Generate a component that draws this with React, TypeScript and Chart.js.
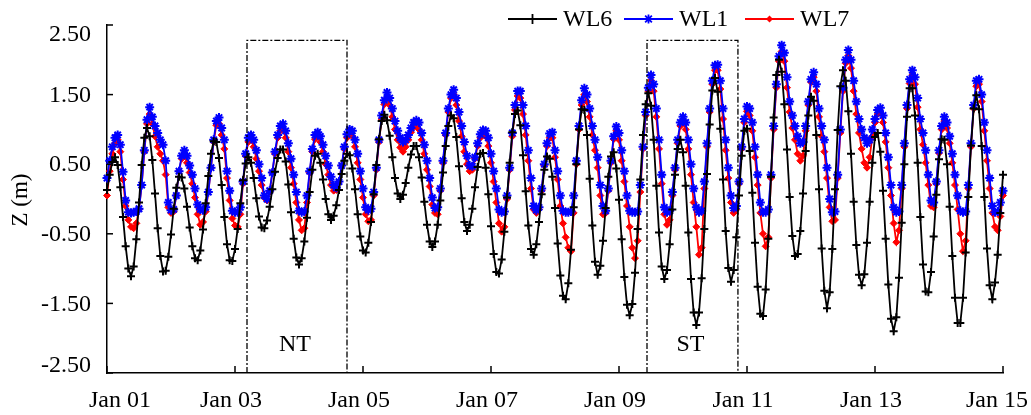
import React, { useEffect, useRef } from 'react';
import { Chart, registerables } from 'chart.js';

Chart.register(...registerables);

// Hourly water levels (m), Jan 01 00:00 .. Jan 15 00:00
const WL6 = [
  0.13, 0.35, 0.53, 0.60, 0.49, 0.17, -0.26, -0.68, -1.00, -1.11,
  -0.97, -0.58, -0.05, 0.49, 0.88, 1.02, 0.90, 0.56, 0.08, -0.42,
  -0.82, -1.04, -1.03, -0.83, -0.51, -0.14, 0.16, 0.32, 0.31, 0.15,
  -0.11, -0.41, -0.68, -0.85, -0.88, -0.74, -0.44, -0.06, 0.33, 0.65,
  0.83, 0.82, 0.59, 0.20, -0.26, -0.65, -0.88, -0.89, -0.72, -0.43,
  -0.06, 0.27, 0.51, 0.60, 0.52, 0.30, 0.01, -0.25, -0.41, -0.42,
  -0.31, -0.11, 0.14, 0.39, 0.59, 0.71, 0.71, 0.54, 0.21, -0.19,
  -0.57, -0.84, -0.94, -0.85, -0.61, -0.27, 0.10, 0.42, 0.62, 0.65,
  0.52, 0.28, 0.00, -0.22, -0.30, -0.24, -0.09, 0.13, 0.36, 0.55,
  0.65, 0.63, 0.44, 0.14, -0.22, -0.54, -0.74, -0.77, -0.63, -0.33,
  0.07, 0.49, 0.86, 1.12, 1.21, 1.13, 0.91, 0.60, 0.30, 0.08,
  0.00, 0.06, 0.23, 0.45, 0.64, 0.76, 0.76, 0.60, 0.31, -0.04,
  -0.37, -0.61, -0.69, -0.61, -0.37, -0.02, 0.38, 0.76, 1.05, 1.20,
  1.16, 0.89, 0.47, 0.01, -0.33, -0.46, -0.37, -0.14, 0.17, 0.46,
  0.65, 0.66, 0.45, 0.07, -0.39, -0.79, -1.05, -1.07, -0.87, -0.47,
  0.02, 0.52, 0.96, 1.22, 1.27, 1.06, 0.63, 0.11, -0.38, -0.72,
  -0.80, -0.65, -0.33, 0.07, 0.42, 0.61, 0.58, 0.32, -0.13, -0.64,
  -1.10, -1.39, -1.44, -1.21, -0.73, -0.12, 0.50, 1.00, 1.29, 1.28,
  0.92, 0.29, -0.38, -0.90, -1.09, -0.96, -0.60, -0.13, 0.32, 0.61,
  0.67, 0.44, -0.01, -0.58, -1.12, -1.52, -1.67, -1.51, -1.06, -0.43,
  0.28, 0.92, 1.36, 1.52, 1.34, 0.85, 0.19, -0.48, -0.97, -1.15,
  -1.02, -0.65, -0.15, 0.35, 0.72, 0.85, 0.67, 0.19, -0.48, -1.15,
  -1.63, -1.81, -1.63, -1.14, -0.43, 0.36, 1.07, 1.56, 1.74, 1.54,
  1.01, 0.28, -0.46, -0.99, -1.19, -1.02, -0.55, 0.05, 0.62, 0.98,
  1.01, 0.69, 0.09, -0.63, -1.26, -1.65, -1.68, -1.30, -0.57, 0.32,
  1.17, 1.78, 2.00, 1.83, 1.36, 0.71, 0.03, -0.53, -0.82, -0.79,
  -0.46, 0.08, 0.69, 1.20, 1.47, 1.41, 0.92, 0.14, -0.71, -1.32,
  -1.57, -1.34, -0.72, 0.14, 0.99, 1.62, 1.85, 1.70, 1.26, 0.65,
  -0.04, -0.66, -1.09, -1.24, -1.08, -0.63, -0.04, 0.52, 0.89, 0.95,
  0.68, 0.12, -0.57, -1.23, -1.72, -1.90, -1.70, -1.13, -0.34, 0.50,
  1.18, 1.59, 1.59, 1.20, 0.52, -0.26, -0.94, -1.33, -1.34, -1.05,
  -0.54, 0.06, 0.57, 0.86, 0.85, 0.50, -0.11, -0.82, -1.42, -1.78,
  -1.78, -1.42, -0.77, 0.03, 0.77, 1.30, 1.49, 1.29, 0.76, 0.03,
  -0.71, -1.24, -1.44, -1.20, -0.80, -0.20, 0.35,
];

const WL1 = [
  0.30, 0.55, 0.75, 0.88, 0.92, 0.78, 0.39, -0.02, -0.19, -0.20,
  -0.19, -0.18, -0.14, 0.20, 0.70, 1.14, 1.32, 1.18, 1.05, 0.95,
  0.85, 0.78, 0.55, -0.05, -0.16, -0.15, 0.05, 0.40, 0.62, 0.70,
  0.62, 0.48, 0.35, 0.15, -0.08, -0.15, -0.16, -0.12, 0.10, 0.45,
  0.85, 1.12, 1.17, 1.02, 0.85, 0.40, 0.12, -0.17, -0.19, -0.19,
  -0.12, 0.25, 0.65, 0.88, 0.92, 0.85, 0.70, 0.50, 0.30, 0.05,
  0.00, 0.12, 0.38, 0.68, 0.92, 1.05, 1.08, 0.98, 0.80, 0.58,
  0.35, 0.10, -0.17, -0.19, -0.18, 0.05, 0.40, 0.72, 0.92, 0.96,
  0.90, 0.78, 0.62, 0.48, 0.32, 0.20, 0.16, 0.25, 0.48, 0.75,
  0.93, 1.00, 0.98, 0.85, 0.65, 0.40, 0.15, -0.12, -0.16, -0.14,
  0.10, 0.45, 0.85, 1.20, 1.42, 1.53, 1.45, 1.30, 1.12, 0.98,
  0.88, 0.82, 0.85, 0.92, 1.02, 1.10, 1.13, 1.10, 0.95, 0.78,
  0.55, 0.30, 0.02, -0.13, -0.12, 0.15, 0.55, 0.95, 1.30, 1.50,
  1.57, 1.45, 1.25, 1.05, 0.82, 0.62, 0.48, 0.47, 0.60, 0.80,
  0.93, 0.99, 0.98, 0.88, 0.65, 0.40, 0.15, -0.15, -0.19, -0.18,
  0.05, 0.45, 0.95, 1.35, 1.55, 1.55, 1.35, 1.05, 0.70, 0.30,
  -0.10, -0.16, -0.12, 0.15, 0.50, 0.80, 0.94, 0.96, 0.70, 0.40,
  0.05, -0.17, -0.19, -0.19, -0.18, 0.05, 0.55, 1.05, 1.42, 1.59,
  1.50, 1.30, 1.05, 0.85, 0.60, 0.20, -0.10, -0.17, 0.15, 0.55,
  0.90, 1.04, 0.95, 0.70, 0.40, 0.05, -0.17, -0.19, -0.19, -0.18,
  0.20, 0.75, 1.25, 1.60, 1.78, 1.65, 1.30, 0.85, 0.35, -0.12,
  -0.19, -0.17, 0.10, 0.45, 0.85, 1.10, 1.18, 1.10, 0.85, 0.50,
  0.15, -0.12, -0.19, -0.17, 0.25, 0.80, 1.30, 1.70, 1.92, 1.93,
  1.70, 1.30, 0.85, 0.45, 0.05, -0.13, -0.10, 0.25, 0.75, 1.15,
  1.33, 1.30, 1.10, 0.75, 0.35, -0.05, -0.19, -0.19, -0.15, 0.35,
  1.05, 1.65, 2.05, 2.21, 2.10, 1.75, 1.40, 1.20, 1.05, 0.90,
  0.80, 0.82, 1.05, 1.40, 1.72, 1.82, 1.65, 1.30, 1.05, 0.85,
  0.45, 0.00, -0.19, -0.18, 0.35, 1.00, 1.60, 2.00, 2.14, 2.00,
  1.70, 1.40, 1.15, 1.00, 0.88, 0.80, 0.85, 1.00, 1.15, 1.28,
  1.31, 1.20, 0.95, 0.60, 0.20, -0.12, -0.19, -0.18, 0.20, 0.80,
  1.35, 1.72, 1.85, 1.75, 1.45, 1.15, 0.95, 0.70, 0.35, -0.02,
  -0.05, 0.25, 0.70, 1.05, 1.18, 1.10, 0.90, 0.65, 0.35, 0.05,
  -0.17, -0.19, -0.18, 0.20, 0.80, 1.35, 1.70, 1.72, 1.50, 1.10,
  0.70, 0.30, -0.10, -0.19, -0.18, -0.05, 0.12,
];

const WL7 = [
  0.05, 0.40, 0.65, 0.80, 0.85, 0.68, 0.28, -0.10, -0.30, -0.40,
  -0.42, -0.35, -0.15, 0.20, 0.68, 1.08, 1.22, 1.08, 0.90, 0.75,
  0.65, 0.55, 0.35, -0.12, -0.20, -0.18, 0.05, 0.40, 0.58, 0.64,
  0.52, 0.38, 0.22, 0.02, -0.22, -0.37, -0.33, -0.18, 0.10, 0.45,
  0.82, 1.06, 1.08, 0.92, 0.72, 0.30, -0.02, -0.28, -0.38, -0.40,
  -0.22, 0.22, 0.62, 0.82, 0.85, 0.75, 0.58, 0.40, 0.20, 0.02,
  -0.02, 0.10, 0.38, 0.65, 0.88, 0.98, 1.00, 0.88, 0.68, 0.45,
  0.22, -0.05, -0.30, -0.45, -0.42, -0.05, 0.38, 0.68, 0.86, 0.90,
  0.82, 0.68, 0.50, 0.35, 0.20, 0.12, 0.13, 0.25, 0.48, 0.72,
  0.88, 0.94, 0.90, 0.75, 0.52, 0.28, 0.02, -0.22, -0.32, -0.30,
  0.05, 0.42, 0.82, 1.15, 1.36, 1.45, 1.35, 1.18, 1.00, 0.85,
  0.74, 0.68, 0.75, 0.85, 0.96, 1.03, 1.05, 1.00, 0.85, 0.65,
  0.42, 0.18, -0.08, -0.20, -0.22, 0.12, 0.52, 0.92, 1.25, 1.45,
  1.50, 1.35, 1.12, 0.90, 0.68, 0.50, 0.40, 0.42, 0.58, 0.76,
  0.88, 0.92, 0.90, 0.76, 0.52, 0.25, -0.05, -0.35, -0.47, -0.40,
  0.00, 0.42, 0.90, 1.28, 1.48, 1.45, 1.22, 0.92, 0.55, 0.15,
  -0.15, -0.20, -0.15, 0.12, 0.48, 0.76, 0.88, 0.88, 0.60, 0.28,
  -0.10, -0.35, -0.55, -0.70, -0.75, -0.20, 0.50, 1.00, 1.35, 1.50,
  1.40, 1.18, 0.92, 0.70, 0.45, 0.05, -0.22, -0.20, 0.12, 0.52,
  0.86, 0.98, 0.85, 0.55, 0.25, -0.10, -0.40, -0.70, -0.85, -0.60,
  0.10, 0.72, 1.20, 1.55, 1.70, 1.55, 1.18, 0.72, 0.22, -0.22,
  -0.37, -0.30, 0.05, 0.42, 0.80, 1.05, 1.12, 1.00, 0.72, 0.35,
  -0.05, -0.40, -0.80, -0.70, 0.15, 0.75, 1.25, 1.65, 1.85, 1.85,
  1.58, 1.15, 0.70, 0.30, -0.05, -0.20, -0.15, 0.22, 0.72, 1.10,
  1.26, 1.20, 0.98, 0.60, 0.20, -0.20, -0.50, -0.68, -0.55, 0.30,
  1.00, 1.60, 1.98, 2.12, 1.98, 1.60, 1.25, 1.02, 0.85, 0.65,
  0.55, 0.62, 0.98, 1.35, 1.68, 1.75, 1.55, 1.18, 0.90, 0.68,
  0.30, -0.12, -0.32, -0.30, 0.30, 0.95, 1.55, 1.95, 2.06, 1.88,
  1.55, 1.22, 0.95, 0.72, 0.52, 0.45, 0.60, 0.90, 1.10, 1.22,
  1.25, 1.10, 0.82, 0.45, 0.05, -0.35, -0.62, -0.45, 0.15, 0.75,
  1.30, 1.66, 1.78, 1.65, 1.32, 1.00, 0.78, 0.52, 0.20, -0.10,
  -0.12, 0.22, 0.66, 1.00, 1.12, 1.02, 0.80, 0.52, 0.20, -0.15,
  -0.50, -0.75, -0.60, 0.15, 0.75, 1.30, 1.62, 1.65, 1.40, 0.98,
  0.55, 0.15, -0.20, -0.40, -0.45, -0.25, 0.05,
];

const seriesNames = ['WL6', 'WL1', 'WL7'];
const seriesColors = ['#000000', '#0000FF', '#FF0000'];
const xTickValues = [0, 48, 96, 144, 192, 240, 288, 336];
const xTickLabels = ['Jan 01', 'Jan 03', 'Jan 05', 'Jan 07', 'Jan 09', 'Jan 11', 'Jan 13', 'Jan 15'];
const yTickValues = [-2.5, -1.5, -0.5, 0.5, 1.5, 2.5];
const yTitle = 'Z (m)';
// highlighted periods: [start hour, end hour, top value]
const periodLabels = ['NT', 'ST'];
const periodStart = [52.5, 202.5];
const periodEnd = [90, 236.6];
const periodTop = [2.28, 2.28];

const FONT = '"Liberation Serif", "Times New Roman", serif';

function drawMarker(ctx: CanvasRenderingContext2D, style: string, x: number, y: number, r: number, color: string) {
  ctx.save();
  ctx.strokeStyle = color;
  ctx.fillStyle = color;
  ctx.setLineDash([]);
  ctx.lineWidth = 1.8;
  ctx.beginPath();
  if (style === 'cross' || style === 'star') {
    ctx.moveTo(x - r, y); ctx.lineTo(x + r, y);
    ctx.moveTo(x, y - r); ctx.lineTo(x, y + r);
  }
  if (style === 'crossRot' || style === 'star') {
    const d = r * 0.75;
    ctx.moveTo(x - d, y - d); ctx.lineTo(x + d, y + d);
    ctx.moveTo(x - d, y + d); ctx.lineTo(x + d, y - d);
  }
  ctx.stroke();
  if (style === 'rectRot') {
    ctx.beginPath();
    ctx.moveTo(x, y - r); ctx.lineTo(x + r, y); ctx.lineTo(x, y + r); ctx.lineTo(x - r, y);
    ctx.closePath();
    ctx.fill();
  }
  ctx.restore();
}

const decorPlugin = {
  id: 'decor',
  afterDraw(chart: any) {
    const { ctx, chartArea, scales } = chart;
    const xs = scales.x;
    const ys = scales.y;
    ctx.save();
    ctx.strokeStyle = '#000';
    ctx.fillStyle = '#000';
    ctx.lineWidth = 1.5;
    ctx.setLineDash([]);
    ctx.font = `24px ${FONT}`;

    // y ticks (inward) + labels
    ctx.textAlign = 'right';
    ctx.textBaseline = 'middle';
    yTickValues.forEach((v) => {
      const py = ys.getPixelForValue(v);
      ctx.beginPath();
      ctx.moveTo(chartArea.left, py);
      ctx.lineTo(chartArea.left + 6, py);
      ctx.stroke();
      const ly = Math.min(Math.max(py, chartArea.top + 9), chartArea.bottom - 8);
      ctx.fillText(v.toFixed(2), chartArea.left - 16, ly + 1);
    });

    // x ticks (inward) + labels
    ctx.textAlign = 'center';
    xTickValues.forEach((v, i) => {
      const px = xs.getPixelForValue(v);
      ctx.beginPath();
      ctx.moveTo(px, chartArea.bottom);
      ctx.lineTo(px, chartArea.bottom - 7);
      ctx.stroke();
      const lx = Math.min(Math.max(px - 4, chartArea.left + 13), chartArea.right - 6);
      ctx.fillText(xTickLabels[i], lx, chartArea.bottom + 28);
    });

    // y title
    ctx.save();
    ctx.font = `23px ${FONT}`;
    ctx.translate(21, (chartArea.top + chartArea.bottom) / 2 + 1);
    ctx.rotate(-Math.PI / 2);
    ctx.fillText(yTitle, 0, 0);
    ctx.restore();

    // period boxes
    ctx.lineWidth = 1.3;
    ctx.setLineDash([6, 2, 2, 2]);
    periodLabels.forEach((lab, i) => {
      const x0 = xs.getPixelForValue(periodStart[i]);
      const x1 = xs.getPixelForValue(periodEnd[i]);
      const yt = ys.getPixelForValue(periodTop[i]);
      const yb = chartArea.bottom;
      ctx.beginPath();
      ctx.moveTo(x0, yb); ctx.lineTo(x0, yt); ctx.lineTo(x1, yt); ctx.lineTo(x1, yb);
      ctx.stroke();
      ctx.fillText(lab, (x0 + x1) / 2 - 2, yb - 28);
    });
    ctx.setLineDash([]);

    // legend
    const legendX = [508, 624, 745];
    const legendY = 19;
    const styles = ['cross', 'star', 'rectRot'];
    const radii = [5, 4.5, 3.5];
    ctx.textAlign = 'left';
    seriesNames.forEach((name, i) => {
      const x0 = legendX[i];
      const x1 = x0 + 49;
      ctx.strokeStyle = seriesColors[i];
      ctx.lineWidth = 2;
      ctx.beginPath();
      ctx.moveTo(x0, legendY); ctx.lineTo(x1, legendY);
      ctx.stroke();
      drawMarker(ctx, styles[i], (x0 + x1) / 2, legendY, radii[i], seriesColors[i]);
      ctx.fillStyle = '#000';
      ctx.fillText(name, x1 + 6, legendY + 1);
    });
    ctx.restore();
  },
};

export default function App() {
  const canvasRef = useRef<HTMLCanvasElement | null>(null);

  useEffect(() => {
    if (!canvasRef.current) return;
    const hours = WL6.map((_, i) => i);
    const chart = new Chart(canvasRef.current, {
      type: 'line',
      data: {
        labels: hours,
        datasets: [
          {
            label: seriesNames[0], data: WL6, order: 0,
            borderColor: seriesColors[0], backgroundColor: seriesColors[0], borderWidth: 1.8,
            pointStyle: 'cross', pointRadius: 4, pointBorderWidth: 2,
            pointBorderColor: seriesColors[0], pointBackgroundColor: seriesColors[0],
            tension: 0, clip: 10,
          },
          {
            label: seriesNames[1], data: WL1, order: 1,
            borderColor: seriesColors[1], backgroundColor: seriesColors[1], borderWidth: 1.8,
            pointStyle: 'star', pointRadius: 4.5, pointBorderWidth: 2,
            pointBorderColor: seriesColors[1], pointBackgroundColor: seriesColors[1],
            tension: 0, clip: 10,
          },
          {
            label: seriesNames[2], data: WL7, order: 2,
            borderColor: seriesColors[2], backgroundColor: seriesColors[2], borderWidth: 1.8,
            pointStyle: 'rectRot', pointRadius: 3.5, pointBorderWidth: 1,
            pointBorderColor: seriesColors[2], pointBackgroundColor: seriesColors[2],
            tension: 0, clip: 10,
          },
        ],
      },
      options: {
        animation: false,
        responsive: false,
        devicePixelRatio: 1,
        events: [],
        layout: { padding: { left: 107, right: 28, top: 25, bottom: 42 } },
        plugins: { legend: { display: false }, tooltip: { enabled: false } },
        scales: {
          x: {
            type: 'linear', min: 0, max: 336,
            grid: { display: false, drawTicks: false },
            border: { display: true, color: '#000', width: 1.5 },
            ticks: { display: false },
            afterBuildTicks: (s: any) => { s.ticks = xTickValues.map((v) => ({ value: v })); },
          },
          y: {
            type: 'linear', min: -2.5, max: 2.5,
            grid: { display: false, drawTicks: false },
            border: { display: true, color: '#000', width: 1.5 },
            ticks: { display: false },
            afterBuildTicks: (s: any) => { s.ticks = yTickValues.map((v) => ({ value: v })); },
          },
        },
      },
      plugins: [decorPlugin],
    } as any);
    return () => chart.destroy();
  }, []);

  return (
    <div style={{ position: 'absolute', left: 0, top: 0, width: 1031, height: 415, background: '#fff' }}>
      <canvas ref={canvasRef} width={1031} height={415} style={{ display: 'block' }} />
    </div>
  );
}
